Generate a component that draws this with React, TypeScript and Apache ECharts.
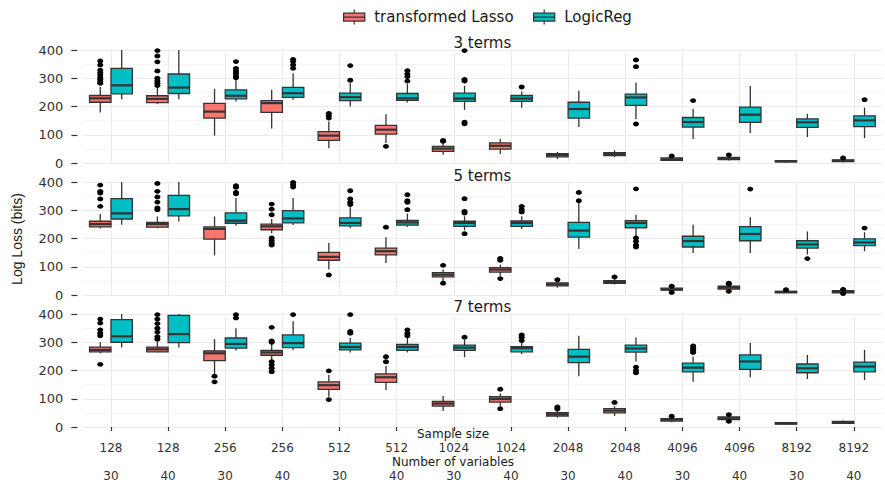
import React, { useEffect, useRef } from "react";
import * as echarts from "echarts";

const sampleSizes = ["128", "128", "256", "256", "512", "512", "1024", "1024", "2048", "2048", "4096", "4096", "8192", "8192"];
const numVariables = ["30", "40", "30", "40", "30", "40", "30", "40", "30", "40", "30", "40", "30", "40"];
const panelLabels = ["3 terms", "5 terms", "7 terms"];
const seriesNames = ["transformed Lasso", "LogicReg"];
const seriesColors = ["#F8766D", "#00BFC4"];
const yMin = 0;
const yMax = 400;
const yStep = 100;

// [lower whisker, Q1, median, Q3, upper whisker]
const lasso3 = [
  [179, 215, 229, 239, 270], [208, 214, 227, 238, 268], [97, 159, 182, 211, 262], [122, 179, 212, 221, 259],
  [52, 80, 97, 111, 147], [71, 102, 118, 133, 173], [29, 41, 51, 59, 70], [32, 49, 61, 71, 86],
  [14, 22, 28, 33, 39], [21, 26, 32, 37, 45], [7, 9, 13, 18, 21], [9, 12, 15, 20, 24],
  [2, 4, 6, 8, 11], [2, 5, 8, 11, 14],
];
const lassoOut3 = [
  [282, 288, 296, 303, 312, 320, 329, 347, 361], [274, 282, 290, 300, 326, 358, 379, 398], [], [],
  [159, 168, 176], [59], [77, 80], [], [], [], [25], [29], [], [18],
];
const logic3 = [
  [226, 245, 275, 335, 460], [226, 246, 267, 315, 450], [218, 227, 238, 259, 294], [224, 232, 247, 268, 318],
  [200, 221, 233, 247, 282], [214, 222, 229, 246, 280], [188, 218, 228, 247, 273], [196, 218, 228, 239, 253],
  [127, 159, 191, 215, 256], [155, 204, 232, 244, 285], [85, 127, 145, 161, 192], [106, 144, 171, 198, 273],
  [92, 126, 144, 156, 174], [88, 129, 151, 167, 196],
];
const logicOut3 = [
  [], [], [302, 308, 318, 326, 335, 359], [335, 347, 359, 367],
  [293, 345], [290, 306, 315, 327], [139, 145, 290, 296, 398], [269],
  [], [138, 341, 365], [221], [], [], [224],
];

const lasso5 = [
  [235, 241, 251, 261, 287], [236, 240, 251, 257, 278], [140, 198, 234, 241, 278], [219, 231, 243, 251, 269],
  [90, 123, 135, 151, 184], [113, 142, 155, 166, 204], [48, 64, 72, 79, 90], [68, 81, 90, 97, 107],
  [26, 32, 38, 43, 51], [37, 41, 46, 51, 57], [12, 17, 20, 24, 29], [17, 21, 26, 31, 36],
  [7, 8, 11, 13, 17], [6, 8, 12, 15, 18],
];
const lassoOut5 = [
  [314, 340, 361, 367, 389], [302, 308, 329, 347, 367, 395], [], [177, 184, 193, 202, 284, 304, 322],
  [71], [240], [42, 105], [58, 123, 130], [54], [64], [9, 31], [13, 39, 42], [19], [5, 20],
];
const logic5 = [
  [249, 269, 289, 341, 450], [260, 280, 304, 353, 450], [245, 254, 263, 291, 343], [248, 255, 271, 299, 343],
  [237, 245, 255, 273, 311], [241, 247, 257, 264, 288], [229, 243, 255, 261, 279], [234, 243, 255, 262, 279],
  [163, 205, 228, 257, 328], [184, 238, 255, 263, 284], [149, 170, 191, 208, 249], [149, 192, 216, 242, 275],
  [143, 166, 179, 192, 225], [155, 175, 186, 199, 222],
];
const logicOut5 = [
  [], [], [358, 363, 381, 387], [382, 391, 399],
  [320, 328, 340, 369], [302, 328, 334, 355], [217, 290, 296, 341], [294, 302, 314],
  [334, 363], [170, 177, 190, 202, 376], [], [375], [129], [237],
];

const lasso7 = [
  [261, 266, 273, 283, 300], [264, 266, 275, 283, 303], [184, 235, 261, 269, 311], [235, 254, 264, 271, 297],
  [107, 133, 148, 160, 184], [131, 158, 176, 188, 216], [57, 74, 83, 91, 110], [74, 88, 99, 107, 119],
  [33, 39, 45, 51, 59], [39, 50, 58, 65, 74], [17, 21, 26, 30, 36], [21, 26, 31, 36, 43],
  [7, 10, 13, 15, 18], [11, 13, 17, 20, 23],
];
const lassoOut7 = [
  [222, 323, 332, 344, 368, 382], [311, 320, 336, 350, 366, 382, 398], [160, 180], [196, 208, 220, 231, 300, 305, 353],
  [97, 199], [231, 249], [], [65, 134], [64, 71], [87], [38], [20, 44], [], [],
];
const logic7 = [
  [281, 300, 321, 380, 450], [281, 299, 329, 395, 450], [271, 279, 294, 315, 350], [273, 281, 297, 326, 374],
  [264, 273, 283, 297, 315], [264, 271, 283, 292, 315], [247, 271, 281, 290, 309], [258, 266, 279, 284, 305],
  [180, 228, 249, 275, 323], [232, 265, 278, 290, 317], [160, 195, 210, 226, 249], [176, 204, 232, 255, 297],
  [170, 192, 208, 223, 255], [166, 195, 214, 230, 273],
];
const logicOut7 = [
  [], [], [386, 398], [398],
  [332, 338, 398], [323, 332, 344], [318], [306, 318, 326],
  [], [192, 200, 212], [264, 271, 279, 287], [], [], [],
];

const panelStats = [
  [lasso3, logic3],
  [lasso5, logic5],
  [lasso7, logic7],
];
const panelOutliers = [
  [lassoOut3, logicOut3],
  [lassoOut5, logicOut5],
  [lassoOut7, logicOut7],
];

const FONT = "DejaVu Sans";
const INK = "#333333";
const GRID_LEFT = 82.4;
const GRID_WIDTH = 800;
const GRID_TOPS = [50, 182, 314];
const GRID_HEIGHT = 113;
const KEY_ICON = "path://M0,4H24V13H0Z M0,8.5H24 M12,0V4 M12,13V17";

const boxRender = (side: number, color: string) => (params: any, api: any) => {
  const i = api.value(0);
  const band = api.size([1, 0])[0];
  const half = band * 0.1875;
  const cx = api.coord([i, 0])[0] + side * half;
  const Y = (k: number) => api.coord([i, Math.min(api.value(k), yMax)])[1];
  const lo = Y(1), q1 = Y(2), md = Y(3), q3 = Y(4), hi = Y(5);
  const st = { stroke: INK, lineWidth: 1.3 };
  return {
    type: "group",
    children: [
      { type: "line", shape: { x1: cx, y1: q3, x2: cx, y2: hi }, style: st },
      { type: "line", shape: { x1: cx, y1: q1, x2: cx, y2: lo }, style: st },
      { type: "rect", shape: { x: cx - half, y: q3, width: 2 * half, height: Math.max(q1 - q3, 0.5) }, style: { fill: color, stroke: INK, lineWidth: 1.3 } },
      { type: "line", shape: { x1: cx - half, y1: md, x2: cx + half, y2: md }, style: { stroke: INK, lineWidth: 2.2 } },
    ],
  };
};

const pointRender = (side: number) => (params: any, api: any) => {
  const i = api.value(0);
  const band = api.size([1, 0])[0];
  const p = api.coord([i, Math.min(api.value(1), yMax)]);
  return {
    type: "ellipse",
    shape: { cx: p[0] + side * band * 0.1875, cy: p[1], rx: 3, ry: 2.4 },
    style: { fill: "#000000" },
  };
};

export default function App() {
  const ref = useRef<HTMLDivElement>(null);
  useEffect(() => {
    if (!ref.current) return;
    const chart = echarts.init(ref.current, null, { renderer: "svg" });
    const categories = sampleSizes.map((s, i) => `${s} / ${numVariables[i]}`);

    const grids = GRID_TOPS.map((top) => ({ left: GRID_LEFT, width: GRID_WIDTH, top, height: GRID_HEIGHT }));
    const xAxes = GRID_TOPS.map((_, p) => ({
      type: "category",
      gridIndex: p,
      data: categories,
      boundaryGap: true,
      axisLine: { show: false },
      axisTick: { show: p === 2, alignWithLabel: true, interval: 0, length: 4, lineStyle: { color: INK, width: 1.2 } },
      axisLabel: {
        show: p === 2,
        interval: 0,
        margin: 7,
        formatter: (_v: string, idx: number) => `{a|${sampleSizes[idx]}}\n{b|${numVariables[idx]}}`,
        rich: {
          a: { fontFamily: FONT, fontSize: 12, lineHeight: 28, color: INK },
          b: { fontFamily: FONT, fontSize: 12, lineHeight: 28, color: INK },
        },
      },
      splitLine: { show: true, alignWithLabel: true, interval: 0, lineStyle: { color: "#EBEBEB", width: 1 } },
    }));
    const yAxes = GRID_TOPS.map((_, p) => ({
      type: "value",
      gridIndex: p,
      min: yMin,
      max: yMax,
      interval: yStep,
      offset: 5,
      axisLine: { show: false },
      axisTick: { show: true, length: 6, lineStyle: { color: INK, width: 1.2 } },
      axisLabel: { fontFamily: FONT, fontSize: 13, color: INK, margin: 14 },
      splitLine: { show: true, lineStyle: { color: "#EBEBEB", width: 1 } },
      minorTick: { show: false, splitNumber: 2 },
      minorSplitLine: { show: true, lineStyle: { color: "#F5F5F5", width: 1 } },
    }));

    const series: any[] = [];
    panelStats.forEach((pair, p) => {
      pair.forEach((stats, s) => {
        const side = s === 0 ? -1 : 1;
        series.push({
          type: "custom",
          name: seriesNames[s],
          xAxisIndex: p,
          yAxisIndex: p,
          itemStyle: { color: seriesColors[s] },
          encode: { x: 0, y: [1, 2, 3, 4, 5] },
          data: stats.map((b, i) => [i, ...b]),
          renderItem: boxRender(side, seriesColors[s]),
          z: 3,
        });
      });
      pair.forEach((_stats, s) => {
        const side = s === 0 ? -1 : 1;
        const pts: number[][] = [];
        panelOutliers[p][s].forEach((vals, i) => vals.forEach((v) => pts.push([i, v])));
        series.push({
          type: "custom",
          name: seriesNames[s],
          xAxisIndex: p,
          yAxisIndex: p,
          itemStyle: { color: seriesColors[s] },
          encode: { x: 0, y: 1 },
          data: pts,
          renderItem: pointRender(side),
          z: 4,
        });
      });
    });

    const legendText = { fontFamily: FONT, fontSize: 15, color: "#1a1a1a", padding: [0, 0, 0, 3] };
    const legendItem = (s: number) => ({
      name: seriesNames[s],
      itemStyle: { color: seriesColors[s], borderColor: INK, borderWidth: 1.2 },
    });

    chart.setOption({
      animation: false,
      backgroundColor: "#ffffff",
      grid: grids,
      xAxis: xAxes,
      yAxis: yAxes,
      legend: [
        { data: [legendItem(0)], left: 338, top: 4, icon: KEY_ICON, itemWidth: 24, itemHeight: 15, textStyle: legendText, selectedMode: false },
        { data: [legendItem(1)], left: 528, top: 4, icon: KEY_ICON, itemWidth: 24, itemHeight: 15, textStyle: legendText, selectedMode: false },
      ],
      graphic: [
        ...panelLabels.map((t, p) => ({
          type: "text",
          x: GRID_LEFT + GRID_WIDTH / 2,
          y: [43, 175.5, 306.5][p],
          style: { text: t, fontFamily: FONT, fontSize: 15, fill: "#1a1a1a", textAlign: "center", textVerticalAlign: "middle" },
        })),
        {
          type: "text",
          x: 17,
          y: 239,
          rotation: Math.PI / 2,
          style: { text: "Log Loss (bits)", fontFamily: "Liberation Sans", fontSize: 14, fill: "#1a1a1a", textAlign: "center", textVerticalAlign: "middle" },
        },
        {
          type: "text",
          x: 453,
          y: 434,
          style: { text: "Sample size", fontFamily: FONT, fontSize: 12, fill: "#1a1a1a", textAlign: "center", textVerticalAlign: "middle" },
        },
        {
          type: "text",
          x: 453,
          y: 462,
          style: { text: "Number of variables", fontFamily: FONT, fontSize: 12, fill: "#1a1a1a", textAlign: "center", textVerticalAlign: "middle" },
        },
      ],
      series,
    });
    return () => chart.dispose();
  }, []);
  return <div ref={ref} style={{ position: "absolute", left: 0, top: 0, width: 885, height: 482 }} />;
}
